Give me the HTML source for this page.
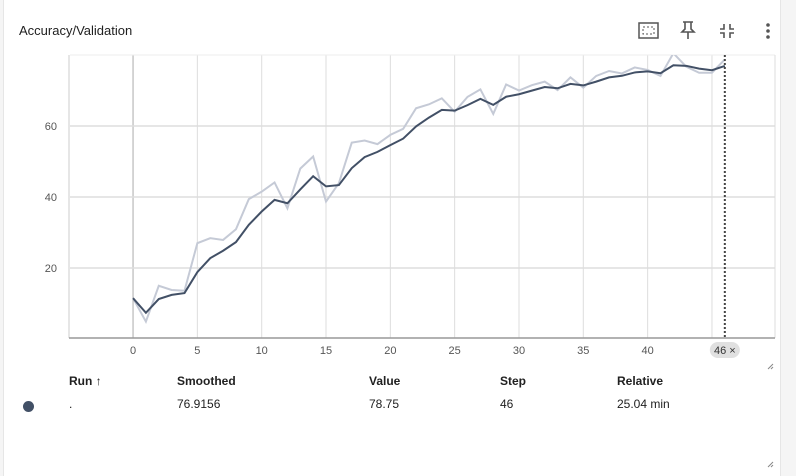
<!DOCTYPE html>
<html><head><meta charset="utf-8">
<style>
body{margin:0;background:#f5f5f5;width:796px;height:476px;overflow:hidden;font-family:"Liberation Sans",sans-serif;}
#card{position:absolute;left:3px;top:0;width:776px;height:476px;background:#fff;border-left:1px solid #e6e6e6;border-right:1px solid #e6e6e6;}
.t{position:absolute;font-size:13px;color:#212121;}
.h{position:absolute;top:374px;font-size:12px;font-weight:bold;color:#212121;}
.c{position:absolute;top:397px;font-size:12px;color:#212121;}
</style></head><body>
<div id="card"></div>
<div class="t" style="left:19px;top:23px;">Accuracy/Validation</div>
<svg width="796" height="476" style="position:absolute;left:0;top:0" id="svg">
<g><rect x="639" y="23" width="19" height="15" fill="none" stroke="#555" stroke-width="1.5"/><rect x="643" y="27" width="11" height="7" fill="none" stroke="#555" stroke-dasharray="2,2"/></g>
<g stroke="#555" stroke-width="1.6" fill="none"><path d="M683 22h10M685 22v7l-3 3h12l-3-3v-7M688 32v7"/></g>
<g stroke="#555" stroke-width="1.6" fill="none"><path d="M724 24v5h-4M730 24v5h4M724 38v-5h-4M730 38v-5h4"/></g>
<g fill="#555"><circle cx="768" cy="25" r="1.8"/><circle cx="768" cy="31" r="1.8"/><circle cx="768" cy="37" r="1.8"/></g>
<g stroke="#888" stroke-width="1"><path d="M768 369l5-5M771 369l2-2M768 467l5-5M771 467l2-2"/></g>
<g id="plot"></g>
</svg>
<div class="h" style="left:69px">Run ↑</div>
<div class="h" style="left:177px">Smoothed</div>
<div class="h" style="left:369px">Value</div>
<div class="h" style="left:500px">Step</div>
<div class="h" style="left:617px">Relative</div>
<div style="position:absolute;left:23px;top:401px;width:11px;height:11px;border-radius:50%;background:#425066"></div>
<div class="c" style="left:69px">.</div>
<div class="c" style="left:177px">76.9156</div>
<div class="c" style="left:369px">78.75</div>
<div class="c" style="left:500px">46</div>
<div class="c" style="left:617px">25.04 min</div>
<script>
const steps=[0,1,2,3,4,5,6,7,8,9,10,11,12,13,14,15,16,17,18,19,20,21,22,23,24,25,26,27,28,29,30,31,32,33,34,35,36,37,38,39,40,41,42,43,44,45,46];
const rawValues=[11.5,4.9,15,13.8,13.6,27,28.4,27.9,30.9,39.4,41.5,44.1,36.8,48,51.4,38.7,43.9,55.3,55.9,54.9,57.5,59.2,65,66.1,67.8,64,68.2,70.3,63.4,71.7,70,71.5,72.5,70.1,73.7,70.8,74.1,75.5,74.8,76.5,75.8,74.1,80.5,76.7,75,75,78.75];
const xTicks=[0,5,10,15,20,25,30,35,40,45];
const yTicks=[20,40,60];
const smoothingWeight=0.6;
const NS="http://www.w3.org/2000/svg";
const L=70,R=775,T=55,B=338;
const xs=v=>L+(v+4.9)/(54.8)*(R-L);
const ys=v=>B+1-v*3.55;
const g=document.getElementById('plot');
function mk(tag,attrs){const e=document.createElementNS(NS,tag);for(const k in attrs)e.setAttribute(k,attrs[k]);g.appendChild(e);return e;}
// clip
const defs=mk('defs',{});const cp=document.createElementNS(NS,'clipPath');cp.setAttribute('id','cp');const cr=document.createElementNS(NS,'rect');cr.setAttribute('x',L);cr.setAttribute('y',T);cr.setAttribute('width',R-L);cr.setAttribute('height',B-T);cp.appendChild(cr);defs.appendChild(cp);
for(const t of xTicks){
 const l=mk('line',{x1:xs(t),x2:xs(t),y1:T,y2:B,stroke:t===0?'#aaa':'#ddd','stroke-width':1});
 
 
 if(t===45)continue;
 const tx=mk('text',{x:xs(t),y:354,'font-size':11,'text-anchor':'middle',fill:'#555','font-family':'Liberation Sans, sans-serif'});
 tx.textContent=t;
 
 
}
for(const t of yTicks){
 const l=mk('line',{x1:L,x2:R,y1:ys(t),y2:ys(t),stroke:'#ddd','stroke-width':1.5});
 
 
 const tx=mk('text',{x:57,y:ys(t)+4,'font-size':11,'text-anchor':'end',fill:'#555','font-family':'Liberation Sans, sans-serif'});
 tx.textContent=t;
 
 
}
const tb=mk('line',{x1:L,x2:R,y1:T,y2:T,stroke:'#eee'});


const lb=mk('line',{x1:L-1,x2:L-1,y1:T,y2:B,stroke:'#ccc'});


const rb=mk('line',{x1:R,x2:R,y1:T,y2:B,stroke:'#ddd'});


const ax=mk('line',{x1:L-1,x2:R,y1:B,y2:B,stroke:'#999','stroke-width':1.5});


// smoothing (debiased EMA)
const smooth=[];let last=0,num=0;
for(let i=0;i<rawValues.length;i++){last=last*smoothingWeight+(1-smoothingWeight)*rawValues[i];num++;smooth.push(last/(1-Math.pow(smoothingWeight,num)));}
const raw=mk('polyline',{points:steps.map((s,i)=>xs(s)+','+ys(rawValues[i])).join(' '),fill:'none',stroke:'#c5cad6','stroke-width':2,'clip-path':'url(#cp)'});


const sm=mk('polyline',{points:steps.map((s,i)=>xs(s)+','+ys(smooth[i])).join(' '),fill:'none',stroke:'#425066','stroke-width':2,'clip-path':'url(#cp)'});


const lastStep=steps[steps.length-1];
const dl=mk('line',{x1:xs(lastStep),x2:xs(lastStep),y1:T,y2:B,stroke:'#444','stroke-width':2,'stroke-dasharray':'2,2'});


const pill=mk('rect',{x:xs(lastStep)-15,y:342,width:30,height:16,rx:8,fill:'#e0e0e0'});


const pt=mk('text',{x:xs(lastStep),y:354,'font-size':11,'text-anchor':'middle',fill:'#333','font-family':'Liberation Sans, sans-serif'});
pt.textContent=lastStep+' ×';


</script>
</body></html>
